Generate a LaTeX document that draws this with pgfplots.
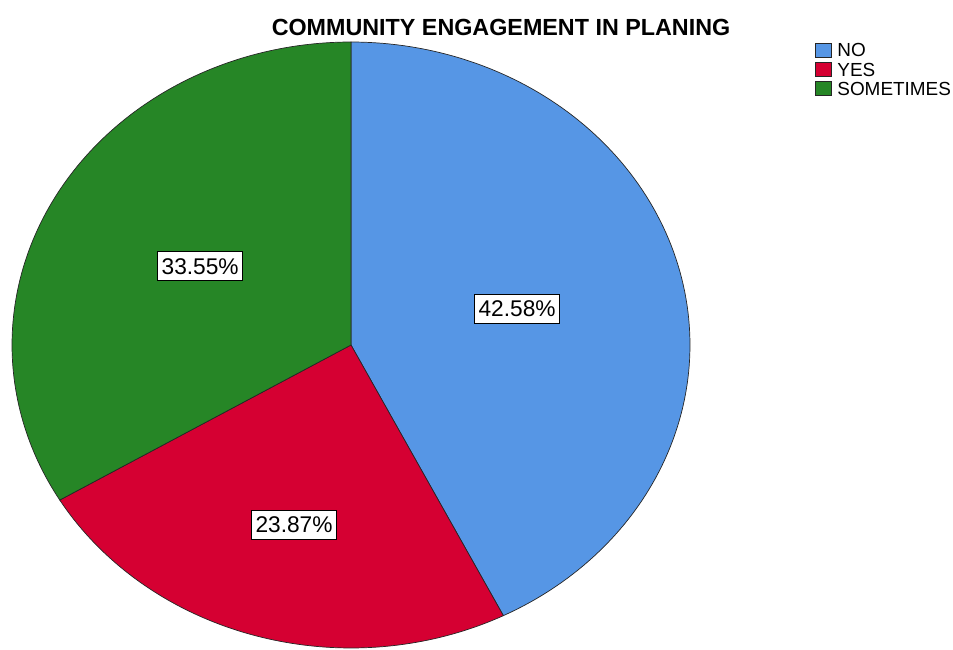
\documentclass[border=0pt]{standalone}
\usepackage{fontspec}
\setmainfont{Liberation Sans}
\usepackage{pgfplots}
\pgfplotsset{compat=1.18}
\definecolor{cno}{RGB}{86,150,229}
\definecolor{cyes}{RGB}{213,0,50}
\definecolor{csom}{RGB}{38,134,38}
% slice: start percent, percent, colour
\newcommand{\pieslice}[3]{%
  \pgfmathsetmacro\sa{90-3.6*(#1)}%
  \pgfmathsetmacro\sb{90-3.6*((#1)+(#2))}%
  \addplot[draw=black!85, line width=0.7bp, fill=#3, domain=\sb:\sa, samples=120]
    ({cos(x)},{sin(x)}) -- (axis cs:0,0) -- cycle;
}
\begin{document}
\begin{tikzpicture}
\path[use as bounding box] (0,0) rectangle (953bp,650bp);
\begin{axis}[
  at={(351bp,305bp)}, anchor=center,
  width=678bp, height=606bp, scale only axis,
  xmin=-1, xmax=1, ymin=-1, ymax=1,
  hide axis, clip=false,
  legend cell align=left,
  legend image code/.code={\draw[#1, line width=0.6bp, draw=black!85] (0bp,-6bp) rectangle (16bp,8bp); \path (20bp,0bp);},
  legend style={at={(1.1844,1.0)}, anchor=north west, draw=none, fill=none,
    font=\fontsize{19}{20}\selectfont, inner sep=0pt, row sep=1.5bp,
    nodes={inner sep=1.5bp}},
]
\pieslice{0}{42.58}{cno}
\addlegendentry{NO}
\pieslice{42.58}{23.87}{cyes}
\addlegendentry{YES}
\pieslice{66.45}{33.55}{csom}
\addlegendentry{SOMETIMES}
\node[draw=black, fill=white, line width=0.8bp, inner xsep=4bp, inner ysep=6.5bp, font=\fontsize{22.8}{24}\selectfont] at (axis cs:0.49,0.119) {42.58\%};
\node[draw=black, fill=white, line width=0.8bp, inner xsep=4bp, inner ysep=6.5bp, font=\fontsize{22.8}{24}\selectfont] at (axis cs:-0.168,-0.594) {23.87\%};
\node[draw=black, fill=white, line width=0.8bp, inner xsep=4bp, inner ysep=6.5bp, font=\fontsize{22.8}{24}\selectfont] at (axis cs:-0.445,0.26) {33.55\%};
\end{axis}
\node[font=\bfseries\fontsize{23.4}{26}\selectfont, inner sep=0pt] at (501bp,622.5bp) {COMMUNITY ENGAGEMENT IN PLANING};
\end{tikzpicture}
\end{document}
